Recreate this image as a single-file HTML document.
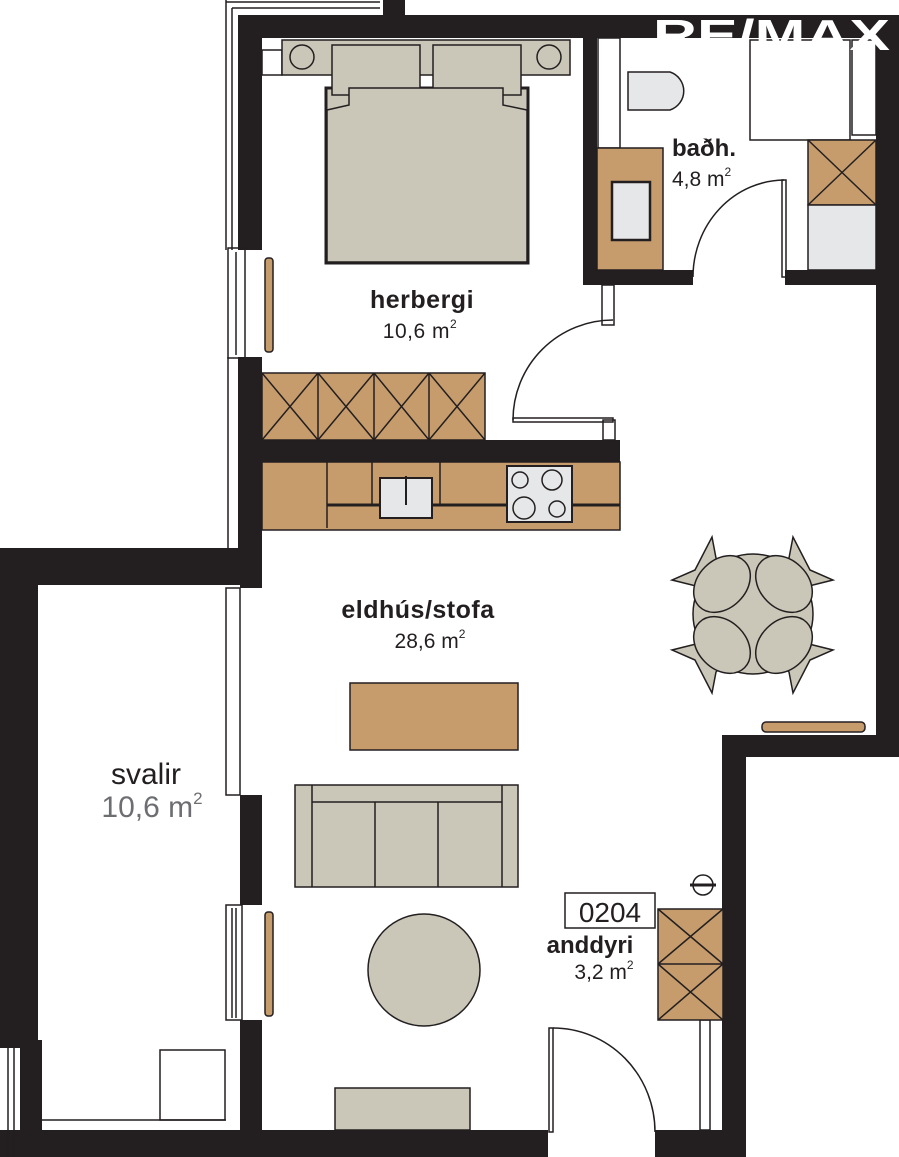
<!DOCTYPE html>
<html><head><meta charset="utf-8"><style>
html,body{margin:0;padding:0;background:#fff;}
svg{display:block;}
text{font-family:"Liberation Sans",Arial,sans-serif;}
</style></head><body>
<svg width="899" height="1157" viewBox="0 0 899 1157" xmlns="http://www.w3.org/2000/svg">
<g fill="#231f20">
<rect x="240" y="15" width="659" height="23"/>
<rect x="383" y="0" width="22" height="20"/>
<rect x="238" y="15" width="24" height="235"/>
<rect x="238" y="357" width="24" height="205"/>
<rect x="876" y="15" width="23" height="742"/>
<rect x="722" y="735" width="177" height="22"/>
<rect x="722" y="735" width="24" height="422"/>
<rect x="0" y="1130" width="548" height="27"/>
<rect x="655" y="1130" width="91" height="27"/>
<rect x="0" y="548" width="262" height="37"/>
<rect x="0" y="548" width="38" height="500"/>
<rect x="20" y="1040" width="22" height="95"/>
<rect x="240" y="548" width="22" height="40"/>
<rect x="240" y="795" width="22" height="110"/>
<rect x="240" y="1020" width="22" height="115"/>
<rect x="583" y="38" width="14" height="247"/>
<rect x="583" y="270" width="110" height="15"/>
<rect x="785" y="270" width="91" height="15"/>
<rect x="262" y="440" width="358" height="22"/>
</g>
<g stroke="#231f20" fill="none" stroke-width="1.5">
<line x1="226" y1="0" x2="226" y2="250"/><line x1="232" y1="8" x2="232" y2="250"/>
<line x1="232" y1="8" x2="380" y2="8"/><line x1="226" y1="2" x2="380" y2="2"/>
<line x1="228" y1="357" x2="228" y2="548"/>
<rect x="228" y="248" width="17" height="110"/>
<line x1="236" y1="252" x2="236" y2="355"/>
<rect x="226" y="588" width="14" height="207"/>
<rect x="226" y="905" width="16" height="115"/>
<line x1="232" y1="908" x2="232" y2="1018"/><line x1="236" y1="908" x2="236" y2="1018"/>
<line x1="8" y1="1048" x2="8" y2="1157"/><line x1="14" y1="1048" x2="14" y2="1157"/>
<rect x="160" y="1050" width="65" height="70"/>
<line x1="42" y1="1120" x2="226" y2="1120"/>
<rect x="700" y="1020" width="10" height="110"/>
<rect x="602" y="285" width="12" height="40"/>
<rect x="603" y="420" width="12" height="20"/>
<rect x="262" y="50" width="20" height="25"/>
<rect x="598" y="38" width="22" height="110"/>
<rect x="852" y="40" width="24" height="95"/>
</g>
<g stroke="#231f20" stroke-width="1.5">
<rect x="282" y="40" width="288" height="35" fill="#cac7b8"/>
<circle cx="302" cy="57" r="12" fill="#cac7b8"/><circle cx="549" cy="57" r="12" fill="#cac7b8"/>
<rect x="326" y="88" width="202" height="175" fill="#cac7b8" stroke-width="3"/>
<rect x="332" y="45" width="88" height="50" fill="#cac7b8"/>
<rect x="433" y="45" width="88" height="50" fill="#cac7b8"/>
<path d="M349 88 L503 88 L503 105 L527 110 L527 262 L327 262 L327 110 L349 105 Z" fill="#cac7b8"/>
</g>
<g stroke="#231f20" stroke-width="1.5">
<path d="M628 72 L670 72 A20 20 0 0 1 670 110 L628 110 Z" fill="#e6e7e8"/>
<rect x="597" y="148" width="66" height="122" fill="#c69c6d"/>
<rect x="612" y="182" width="38" height="58" fill="#e6e7e8" stroke-width="2.5"/>
<rect x="750" y="40" width="100" height="100" fill="#fff"/>
<rect x="808" y="140" width="68" height="65" fill="#c69c6d"/>
<path d="M808 140 L876 205 M876 140 L808 205" fill="none"/>
<rect x="808" y="205" width="68" height="65" fill="#e6e7e8"/>
</g>
<g stroke="#231f20" stroke-width="1.5" fill="none">
<path d="M513 420 A100 100 0 0 1 613 320"/>
<rect x="513" y="418" width="100" height="4"/>
<path d="M693 277 A92 97 0 0 1 784 180"/>
<rect x="782" y="180" width="4" height="97"/>
<path d="M553 1028 A102 104 0 0 1 655 1132"/>
<rect x="549" y="1028" width="4" height="104"/>
</g>
<g stroke="#231f20" stroke-width="1.5">
<rect x="262" y="373" width="223" height="67" fill="#c69c6d"/>
<path d="M318 373 V440 M374 373 V440 M429 373 V440" fill="none"/>
<path d="M262 373 L318 440 M318 373 L262 440 M318 373 L374 440 M374 373 L318 440 M374 373 L429 440 M429 373 L374 440 M429 373 L485 440 M485 373 L429 440" fill="none"/>
<rect x="262" y="462" width="358" height="68" fill="#c69c6d"/>
<path d="M327 462 V528 M372 462 V505 M440 462 V505" fill="none"/>
<line x1="327" y1="505" x2="620" y2="505" stroke-width="3"/>
<rect x="380" y="478" width="52" height="40" fill="#e6e7e8" stroke-width="2"/>
<line x1="406" y1="476" x2="406" y2="505" stroke-width="2"/>
<rect x="507" y="466" width="65" height="56" fill="#e6e7e8" stroke-width="2"/>
<circle cx="520" cy="480" r="8" fill="none"/><circle cx="552" cy="480" r="10" fill="none"/>
<circle cx="524" cy="508" r="11" fill="none"/><circle cx="557" cy="509" r="8" fill="none"/>
</g>
<g stroke="#231f20" stroke-width="1.5" fill="#cac7b8">
<path d="M695 570 L712 537 L716 558 L740 580 L712 590 L672 580 Z"/>
<path d="M810 570 L793 537 L789 558 L765 580 L793 590 L833 580 Z"/>
<path d="M695 660 L712 693 L716 672 L740 650 L712 640 L672 650 Z"/>
<path d="M810 660 L793 693 L789 672 L765 650 L793 640 L833 650 Z"/>
<circle cx="753" cy="614" r="60"/>
<ellipse cx="722" cy="584" rx="24" ry="32" transform="rotate(45 722 584)"/>
<ellipse cx="784" cy="584" rx="24" ry="32" transform="rotate(-45 784 584)"/>
<ellipse cx="722" cy="645" rx="24" ry="32" transform="rotate(-45 722 645)"/>
<ellipse cx="784" cy="645" rx="24" ry="32" transform="rotate(45 784 645)"/>
</g>
<g stroke="#231f20" stroke-width="1.5">
<rect x="762" y="722" width="103" height="10" rx="4" fill="#c69c6d"/>
<rect x="350" y="683" width="168" height="67" fill="#c69c6d"/>
<rect x="295" y="785" width="223" height="102" fill="#cac7b8"/>
<path d="M312 785 V887 M502 785 V887 M312 802 H502 M375 802 V887 M438 802 V887" fill="none"/>
<circle cx="424" cy="970" r="56" fill="#cac7b8"/>
<rect x="265" y="912" width="8" height="104" rx="3" fill="#c69c6d"/>
<rect x="265" y="258" width="8" height="94" rx="3" fill="#c69c6d"/>
<rect x="335" y="1088" width="135" height="42" fill="#cac7b8"/>
<rect x="565" y="893" width="90" height="35" fill="#fff"/>
<rect x="658" y="909" width="65" height="111" fill="#c69c6d"/>
<path d="M658 964 H723 M658 909 L723 964 M723 909 L658 964 M658 964 L723 1020 M723 964 L658 1020" fill="none"/>
<circle cx="703" cy="885" r="10" fill="#fff"/>
<line x1="690" y1="885" x2="716" y2="885" stroke-width="3"/>
</g>
<g fill="#231f20">
<text x="422" y="308" font-size="25" font-weight="bold" text-anchor="middle" letter-spacing="0.5">herbergi</text>
<text x="420" y="338" font-size="21" text-anchor="middle" letter-spacing="0.5">10,6 m<tspan font-size="12" dy="-10">2</tspan></text>
<text x="672" y="156" font-size="24" font-weight="bold">baðh.</text>
<text x="672" y="186" font-size="21">4,8 m<tspan font-size="12" dy="-10">2</tspan></text>
<text x="418" y="618" font-size="25" font-weight="bold" text-anchor="middle" letter-spacing="0.5">eldhús/stofa</text>
<text x="430" y="648" font-size="21" text-anchor="middle">28,6 m<tspan font-size="12" dy="-10">2</tspan></text>
<text x="146" y="784" font-size="30" text-anchor="middle">svalir</text>
<text x="152" y="817" font-size="30" fill="#6d6e71" text-anchor="middle">10,6 m<tspan font-size="17" dy="-13">2</tspan></text>
<text x="610" y="922" font-size="28" text-anchor="middle">0204</text>
<text x="590" y="953" font-size="24" font-weight="bold" text-anchor="middle">anddyri</text>
<text x="604" y="979" font-size="21" text-anchor="middle">3,2 m<tspan font-size="12" dy="-10">2</tspan></text>
</g>
<text x="653" y="50" font-size="44" font-weight="bold" fill="#fff" textLength="237" lengthAdjust="spacingAndGlyphs">RE/MAX</text>
</svg>
</body></html>
